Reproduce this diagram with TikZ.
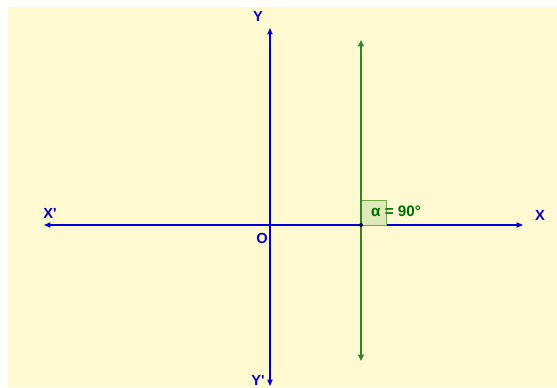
\documentclass[tikz,border=0pt]{standalone}
\usepackage{fontspec}
\setmainfont{Liberation Sans}
\usetikzlibrary{arrows.meta, positioning}
\definecolor{paper}{RGB}{255,249,210}
\definecolor{axisblue}{RGB}{0,0,210}
\definecolor{linegreen}{RGB}{50,130,40}
\definecolor{textgreen}{RGB}{0,110,0}
\definecolor{anglefill}{RGB}{222,232,185}
\definecolor{angledraw}{RGB}{110,170,70}

\begin{document}
\begin{tikzpicture}[
  x=0.03cm, y=-0.03cm,
  axis/.style={axisblue, line width=0.9pt, -{Triangle[length=5.5pt, width=4.5pt]}},
  vline/.style={linegreen, line width=1.5pt, {Triangle[length=5.5pt, width=5pt]}-{Triangle[length=5.5pt, width=5pt]}},
  lbl/.style={text=axisblue, font=\bfseries\fontsize{12.5}{14}\selectfont, inner sep=0pt},
  anglelbl/.style={text=textgreen, font=\bfseries\fontsize{13}{15}\selectfont, inner sep=0pt, anchor=west}
]
  \useasboundingbox (0,0) rectangle (557,387);
  \fill[paper] (8,7) rectangle (557,387);

  % axes
  \coordinate (O) at (270,225);
  \coordinate (xend) at (523,225);
  \coordinate (xbeg) at (44,225);
  \coordinate (yend) at (270,28);
  \coordinate (ybeg) at (270,386);
  \draw[axis] (O) -- (xend);
  \draw[axis] (O) -- (xbeg);
  \draw[axis] (O) -- (yend);
  \draw[axis] (O) -- (ybeg);

  % right angle mark
  \coordinate (P) at (361,225);
  \filldraw[fill=anglefill, draw=angledraw, line width=0.8pt] (P) rectangle (386,200);

  % vertical line
  \coordinate (top) at (361,40);
  \coordinate (bot) at (361,361);
  \draw[vline] (bot) -- (top);
  \fill[black!70!axisblue] (P) circle (2);

  \node[lbl] (xlbl)  at (540,215) {X};
  \node[lbl] (xplbl) at (50,213)  {X\textquotesingle};
  \node[lbl] (ylbl)  at (258,16)  {Y};
  \node[lbl] (yplbl) at (258,380) {Y\textquotesingle};
  \node[lbl] (olbl)  at (262,238) {O};
  \node[anglelbl] (alpha) at (371,211) {α = 90°};
\end{tikzpicture}
\end{document}
